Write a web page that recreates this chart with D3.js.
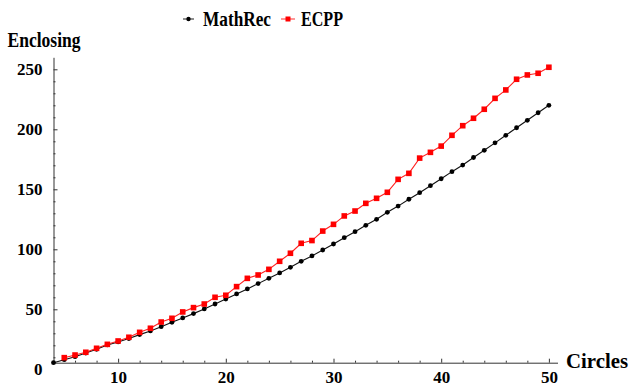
<!DOCTYPE html>
<html>
<head>
<meta charset="utf-8">
<script src="https://cdn.jsdelivr.net/npm/d3@7"></script>
<style>
  body { margin: 0; background: #fff; }
  text { font-family: "Liberation Serif", "Times New Roman", serif; font-weight: bold; }
</style>
</head>
<body>
<script>
// number of circles (x) for each series
const circlesMath = [4, 5, 6, 7, 8, 9, 10, 11, 12, 13, 14, 15, 16, 17, 18, 19, 20, 21, 22, 23, 24, 25, 26, 27,
  28, 29, 30, 31, 32, 33, 34, 35, 36, 37, 38, 39, 40, 41, 42, 43, 44, 45, 46, 47, 48, 49, 50];
const circlesEcpp = [5, 6, 7, 8, 9, 10, 11, 12, 13, 14, 15, 16, 17, 18, 19, 20, 21, 22, 23, 24, 25, 26, 27,
  28, 29, 30, 31, 32, 33, 34, 35, 36, 37, 38, 39, 40, 41, 42, 43, 44, 45, 46, 47, 48, 49, 50];

// enclosing values
const mathRec = [5.5, 8, 10.5, 13.5, 16.7, 20.3, 22.8, 25.6, 28.9, 32, 35.5, 39.2, 42.8, 46.4, 50.3, 54.4,
  58.6, 62.8, 67, 71.4, 75.8, 80.3, 85, 90, 94.5, 99.4, 104.4, 109.7, 114.7, 120, 125, 130.8, 136, 141.7,
  147.2, 153, 158.8, 164.7, 170.2, 176.5, 182.5, 188.7, 195, 201.3, 207.5, 213.8, 220];
const ecpp = [9.7, 11.9, 14.2, 17.5, 20.8, 23.6, 26.7, 30.8, 34.2, 39.4, 42.5, 47.8, 51.4, 54.4, 60, 61.7,
  68.9, 75.8, 78.6, 83.3, 90, 96.7, 105, 107.3, 115.2, 120.8, 127.8, 131.9, 138.3, 142.5, 147.5, 158.3,
  163.3, 176, 180.8, 186, 195, 203, 209.2, 216.7, 225.8, 232.8, 241.7, 245.3, 246.7, 251.7];

const xTicks = [10, 20, 30, 40, 50];
const xMinor = [6, 8, 12, 14, 16, 18, 22, 24, 26, 28, 32, 34, 36, 38, 42, 44, 46, 48];
const yTicks = [0, 50, 100, 150, 200, 250];
const yMinor = [10, 20, 30, 40, 60, 70, 80, 90, 110, 120, 130, 140, 160, 170, 180, 190, 210, 220, 230, 240];

let width = 630,
    height = 391;

let svg = d3.select('body')
  .append('svg')
    .attr('width', width)
    .attr('height', height);

// axes cross at the first data point, not at zero
let xScale = d3.scaleLinear().domain([4, 50.8]).range([53.5, 557.5]);
let yScale = d3.scaleLinear().domain([5.5, 260]).range([362.7, 57.3]);

let axisX = xScale(4),
    axisY = yScale(5.5);

// x axis
let xAxis = svg.append('g')
  .attr('transform', `translate(0,${axisY})`)
  .call(d3.axisBottom(xScale).tickValues(xTicks).tickSizeInner(-4).tickSizeOuter(0).tickPadding(8)
    .tickFormat(d3.format('d')));
xAxis.append('g')
  .call(d3.axisBottom(xScale).tickValues(xMinor).tickSize(-2).tickFormat(''))
  .select('.domain').remove();

// y axis
let yAxis = svg.append('g')
  .attr('transform', `translate(${axisX},0)`)
  .call(d3.axisLeft(yScale).tickValues(yTicks.filter(v => v > 5)).tickSizeInner(-4).tickSizeOuter(0)
    .tickFormat(''));
yAxis.append('g')
  .call(d3.axisLeft(yScale).tickValues(yMinor).tickSize(-2).tickFormat(''))
  .select('.domain').remove();
// labels (0 sits below the crossing)
yAxis.append('g')
  .call(d3.axisLeft(yScale).tickValues(yTicks).tickSize(0).tickPadding(11).tickFormat(d3.format('d')))
  .select('.domain').remove();

svg.selectAll('.domain, .tick line').attr('stroke', '#333').attr('stroke-width', 1);
svg.selectAll('.tick text')
  .attr('fill', '#000')
  .style('font-size', '17px')
  .style('font-family', '"Liberation Serif", serif')
  .style('font-weight', 'bold');

// axis titles
svg.append('text')
  .attr('x', 7.5).attr('y', 46.5)
  .attr('textLength', 73).attr('lengthAdjust', 'spacingAndGlyphs')
  .style('font-size', '21px')
  .text('Enclosing');

svg.append('text')
  .attr('x', 566).attr('y', 367.5)
  .attr('textLength', 62).attr('lengthAdjust', 'spacingAndGlyphs')
  .style('font-size', '21px')
  .text('Circles');

// series
let line = d3.line().x(d => xScale(d[0])).y(d => yScale(d[1]));
let mathData = circlesMath.map((c, i) => [c, mathRec[i]]);
let ecppData = circlesEcpp.map((c, i) => [c, ecpp[i]]);

svg.append('path')
  .datum(mathData)
  .attr('d', line)
  .attr('fill', 'none')
  .attr('stroke', '#111')
  .attr('stroke-width', 1.1);

svg.append('path')
  .datum(ecppData)
  .attr('d', line)
  .attr('fill', 'none')
  .attr('stroke', '#ff2020')
  .attr('stroke-width', 1.1);

svg.selectAll('circle.math')
  .data(mathData)
  .enter()
  .append('circle')
    .attr('class', 'math')
    .attr('cx', d => xScale(d[0]))
    .attr('cy', d => yScale(d[1]))
    .attr('r', 2.4)
    .attr('fill', '#000');

svg.selectAll('rect.ecpp')
  .data(ecppData)
  .enter()
  .append('rect')
    .attr('class', 'ecpp')
    .attr('x', d => xScale(d[0]) - 2.8)
    .attr('y', d => yScale(d[1]) - 2.8)
    .attr('width', 5.6)
    .attr('height', 5.6)
    .attr('fill', '#ff0000');

// legend
let legend = svg.append('g');
legend.append('line').attr('x1', 183).attr('x2', 194).attr('y1', 19).attr('y2', 19)
  .attr('stroke', '#444').attr('stroke-width', 1.2);
legend.append('circle').attr('cx', 188.5).attr('cy', 19).attr('r', 2.2).attr('fill', '#000');
legend.append('text').attr('x', 203).attr('y', 25.5)
  .attr('textLength', 68).attr('lengthAdjust', 'spacingAndGlyphs')
  .style('font-size', '21px').text('MathRec');

legend.append('line').attr('x1', 281).attr('x2', 295).attr('y1', 19).attr('y2', 19)
  .attr('stroke', '#ff5050').attr('stroke-width', 1.2);
legend.append('rect').attr('x', 285.5).attr('y', 16.5).attr('width', 5).attr('height', 5).attr('fill', '#ff0000');
legend.append('text').attr('x', 301).attr('y', 25.5)
  .attr('textLength', 42).attr('lengthAdjust', 'spacingAndGlyphs')
  .style('font-size', '21px').text('ECPP');
</script>
</body>
</html>
